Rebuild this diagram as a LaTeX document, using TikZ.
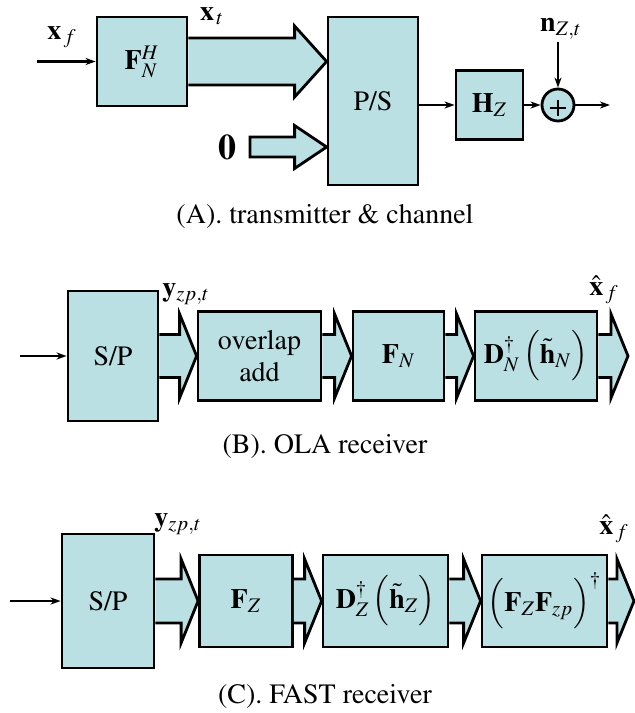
\documentclass[tikz,border=0pt]{standalone}
\usepackage[T1]{fontenc}
\usepackage{mathptmx}
\usepackage{tikz}
\usetikzlibrary{arrows.meta,calc}
\definecolor{boxfill}{RGB}{187,224,227}
% fat block arrow: start, tip, half shaft, half head, head length
\newcommand{\fatarrow}[5]{%
\draw[fatarr]($(#1)+(0,-#3)$)--($(#2)+(-#5,-#3)$)--($(#2)+(-#5,-#4)$)--(#2)
--($(#2)+(-#5,#4)$)--($(#2)+(-#5,#3)$)--($(#1)+(0,#3)$);}

\begin{document}
\begin{tikzpicture}[x=0.5pt,y=-0.5pt,font=\fontsize{14}{16}\selectfont,
blk/.style={draw,line width=1.4pt,fill=boxfill,inner sep=0pt,align=center},
fatarr/.style={draw,line width=1.4pt,fill=boxfill,line join=miter},
thinarr/.style={line width=1.3pt,-{Stealth[length=5pt,width=3.5pt,inset=1.5pt]}}]
\useasboundingbox(0,0)rectangle(635,713);
% (A)
\node[blk,minimum width=45pt,minimum height=44.5pt](FH)at(142,61.5){$\mathbf{F}_N^H$};
\node[blk,minimum width=45pt,minimum height=84pt](PS)at(373,101){P/S};
\node[blk,minimum width=33.5pt,minimum height=34.5pt](HZ)at(489.5,105){$\mathbf{H}_Z$};
\node[blk,circle,minimum size=16pt](sum)at(558,105){};
\draw[line width=1.3pt]($(sum)+(-8,3)$)--($(sum)+(8,3)$)
($(sum)+(0,-5)$)--($(sum)+(0,11)$);
\coordinate(inA)at(37,61.5);
\coordinate(z0)at(250,147);
\coordinate(nz)at(558,42);
\coordinate(outA)at(610,105);
\draw[thinarr](inA)--(FH);
\node[anchor=base](xf)at(62,39){$\mathbf{x}_{\,f}$};
\fatarrow{FH.east}{PS.west|-FH.east}{23.5}{35.5}{32}
\node[anchor=base](xt)at(212,20){$\mathbf{x}_{\,t}$};
\node(zero)at(227,147){\fontsize{18}{20}\selectfont$\mathbf{0}$};
\draw[fatarr]($(z0)+(0,-10)$)--($(PS.west|-z0)+(-32,-10)$)--($(PS.west|-z0)+(-32,-21.5)$)
--(PS.west|-z0)--($(PS.west|-z0)+(-32,21.5)$)--($(PS.west|-z0)+(-32,10)$)--($(z0)+(0,10)$)--cycle;
\draw[thinarr](PS.east|-HZ)--(HZ);
\draw[thinarr](HZ)--(sum);
\draw[thinarr](nz)--(sum);
\node[anchor=base](nzl)at(561,31){$\mathbf{n}_{Z,t}$};
\draw[thinarr](sum)--(outA);
\node[anchor=base](capA)at(325,223){(A). transmitter \& channel};
% (B)
\node[blk,minimum width=45pt,minimum height=65pt](SP1)at(113,356){S/P};
\node[blk,minimum width=61.5pt,minimum height=44.5pt](OA)at(259.5,356){overlap\\add};
\node[blk,minimum width=45.5pt,minimum height=44.5pt](FN)at(398.5,356){$\mathbf{F}_N$};
\node[blk,minimum width=61pt,minimum height=44.5pt](DN)at(536,356)
{$\mathbf{D}_N^{\dagger}\,\Bigl(\tilde{\mathbf{h}}_N\Bigr)$};
\coordinate(inB)at(20,356);
\coordinate(outB)at(628,356);
\draw[thinarr](inB)--(SP1);
\fatarrow{SP1.east}{OA.west}{21.5}{42}{17}
\fatarrow{OA.east}{FN.west}{21.5}{42}{17}
\fatarrow{FN.east}{DN.west}{21.5}{42}{17}
\fatarrow{DN.east}{outB}{21.5}{42}{17}
\node[anchor=base](yB)at(186,296){$\mathbf{y}_{zp,t}$};
\node[anchor=base](xB)at(604,295){$\hat{\mathbf{x}}_{\,f}$};
\node[anchor=base](capB)at(325,453){(B). OLA receiver};
% (C)
\node[blk,minimum width=46pt,minimum height=67pt](SP2)at(108,601){S/P};
\node[blk,minimum width=46.5pt,minimum height=46pt](FZ)at(246,601){$\mathbf{F}_Z$};
\node[blk,minimum width=62.5pt,minimum height=46pt](DZ)at(385.5,601)
{$\mathbf{D}_Z^{\dagger}\,\Bigl(\tilde{\mathbf{h}}_Z\Bigr)$};
\node[blk,minimum width=62.5pt,minimum height=46pt](FF)at(544.5,601)
{$\Bigl(\mathbf{F}_Z\mathbf{F}_{zp}\Bigr)^{\dagger}$};
\coordinate(inC)at(10,601);
\coordinate(outC)at(634,601);
\draw[thinarr](inC)--(SP2);
\fatarrow{SP2.east}{FZ.west}{22}{42}{17}
\fatarrow{FZ.east}{DZ.west}{22}{42}{17}
\fatarrow{DZ.east}{FF.west}{22}{42}{17}
\fatarrow{FF.east}{outC}{22}{42}{17}
\node[anchor=base](yC)at(178,526){$\mathbf{y}_{zp,t}$};
\node[anchor=base](xC)at(614,534){$\hat{\mathbf{x}}_{\,f}$};
\node[anchor=base](capC)at(325,703){(C). FAST receiver};
\end{tikzpicture}
\end{document}
